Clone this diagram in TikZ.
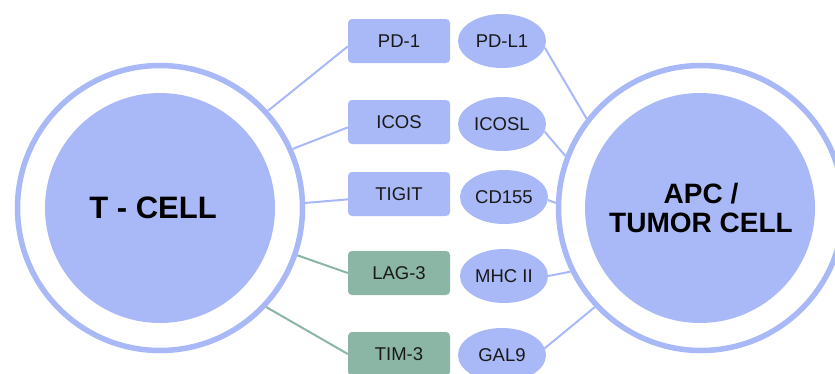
\documentclass[tikz,border=0pt]{standalone}
\usepackage{fontspec}
\setmainfont{Liberation Sans}
\usetikzlibrary{shapes.geometric}
\definecolor{lav}{HTML}{A9B8F7}
\definecolor{sage}{HTML}{8BB5A4}
\tikzset{
  receptor/.style={rectangle, rounded corners=4pt, minimum width=102pt, minimum height=44pt, fill=lav, text=black!90, font=\fontsize{18.5}{22}\selectfont},
  checkpoint/.style={receptor, fill=sage},
  ligand/.style={ellipse, fill=lav, inner sep=0pt, minimum width=88pt, minimum height=54pt, text=black!90, font=\fontsize{18.5}{22}\selectfont},
  ring/.style={circle, draw=lav, line width=5.5pt, minimum size=285pt},
  core/.style={circle, fill=lav, minimum size=230pt},
  link/.style={lav, line width=2pt},
  greenlink/.style={sage, line width=2pt}
}
\begin{document}
\begin{tikzpicture}[x=1pt,y=-1pt]
      \useasboundingbox (0,0) rectangle (835,373);
      \node[ring] (tcell) at (160,208) {};
      \node[core] (tcellcore) at (160,208) {};
      \node[font=\bfseries\fontsize{31}{34}\selectfont] (tlabel) at (153,208) {T - CELL};
      \node[ring] (apc) at (701,208) {};
      \node[core] (apccore) at (700,208) {};
      \node[font=\bfseries\fontsize{28}{29}\selectfont, align=center] (apclabel) at (701,208) {APC /\\TUMOR CELL};
      \node[receptor] (pd1) at (399,41) {PD-1};
      \node[receptor] (icos) at (399,122) {ICOS};
      \node[receptor] (tigit) at (399,194) {TIGIT};
      \node[checkpoint] (lag3) at (399,273) {LAG-3};
      \node[checkpoint] (tim3) at (399,354) {TIM-3};
      \node[ligand] (pdl1) at (502,41) {PD-L1};
      \node[ligand] (icosl) at (502,124) {ICOSL};
      \node[ligand] (cd155) at (504,197) {CD155};
      \node[ligand] (mhc2) at (504,276) {MHC II};
      \node[ligand] (gal9) at (502,355) {GAL9};
      \draw[link] (tcell.42) -- (pd1.186);
      \draw[link] (tcell.24) -- (icos.186);
      \draw[link] (tcell.2) -- (tigit.186);
      \draw[greenlink] (tcell.-19) -- (lag3.west);
      \draw[greenlink] (tcell.-43) -- (tim3.west);
      \draw[link] (pdl1.-9) -- (apc.142);
      \draw[link] (icosl.-10) -- (apc.159);
      \draw[link] (cd155.-4) -- (apc.178);
      \draw[link] (mhc2.east) -- (apc.206);
      \draw[link] (gal9.9) -- (apc.223);
\end{tikzpicture}
\end{document}
